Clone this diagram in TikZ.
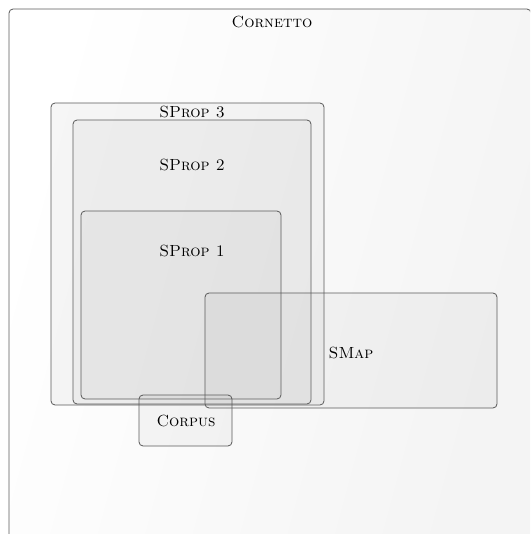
\documentclass[tikz,border=0pt]{standalone}
\usepackage{tikz}
\usepackage{xcolor}
\definecolor{framegray}{RGB}{90, 90, 90}
\definecolor{boxgray}{RGB}{150, 150, 150}

\begin{document}
\begin{tikzpicture}[
    x=0.62pt, y=-0.62pt,
    set/.style={draw=framegray, rounded corners=2.5pt, line width=0.5pt,
        fill=boxgray, fill opacity=0.08, text opacity=1},
    setname/.style={font=\normalsize, inner sep=0pt},
]
    \useasboundingbox (0,0) rectangle (530,534);
    \clip (0,0) rectangle (530,534);

    % outer space
    \shade[draw=framegray, rounded corners=2.5pt, line width=0.5pt,
        left color=white, right color=gray!9, shading angle=75]
        (9,9) rectangle (531,560);
    \node[setname] (cornetto) at (272,22) {\textsc{Cornetto}};

    % property sets
    \draw[set] (51,103) rectangle (324,405);
    \node[setname] (sprop3) at (192,112) {\textsc{SProp 3}};
    \draw[set] (73,120) rectangle (311,404);
    \node[setname] (sprop2) at (192,165) {\textsc{SProp 2}};
    \draw[set] (81,211) rectangle (281,399);
    \node[setname] (sprop1) at (192,251) {\textsc{SProp 1}};

    % map and corpus
    \draw[set] (205,293) rectangle (497,408);
    \node[setname] (smap) at (351,353) {\textsc{SMap}};
    \draw[set] (139,395) rectangle (232,446);
    \node[setname] (corpus) at (186,421) {\textsc{Corpus}};
\end{tikzpicture}
\end{document}
